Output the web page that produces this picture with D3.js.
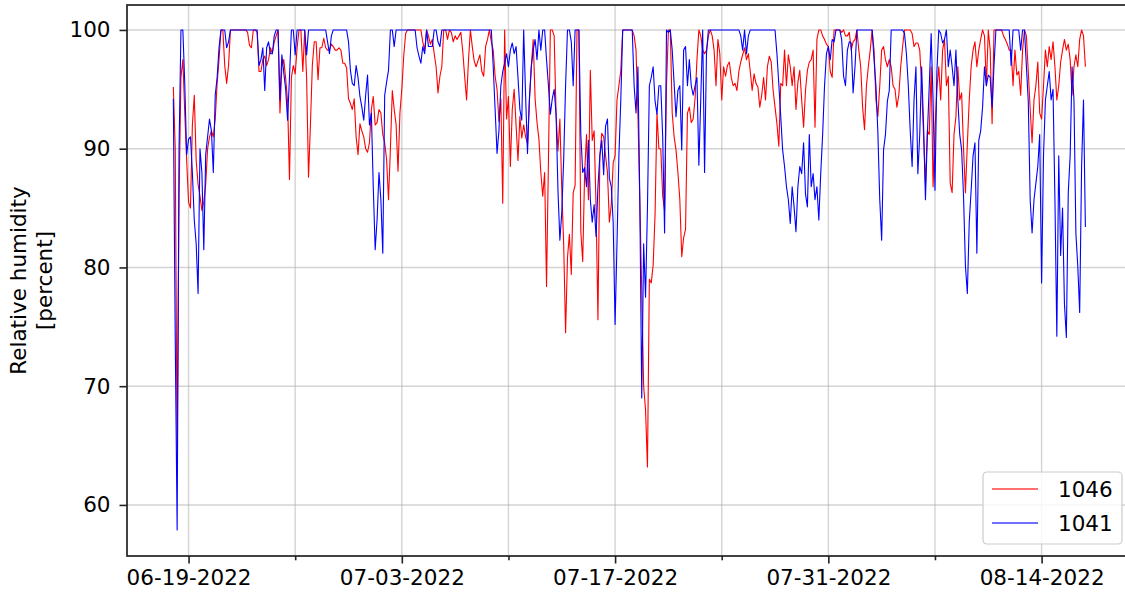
<!DOCTYPE html>
<html>
<head>
<meta charset="utf-8">
<script src="https://cdn.jsdelivr.net/npm/d3@7"></script>
<style>
  html, body { margin: 0; padding: 0; background: #fff; overflow: hidden; }
  svg { display: block; font-family: "DejaVu Sans", sans-serif; }
</style>
</head>
<body>
<div class="chart"></div>
<script>
"use strict";

// Readings every 3 hours, starting 06-18-2022 00:00 (one row = one day)
const startTime = new Date(2022, 5, 18, 0);
const stepHours = 3;

// Sensor 1046 (red)
const rh1046 = [
  95.2, 90.0, 64.2, 86.0, 96.0, 97.5, 93.0, 89.0,
  85.5, 85.0, 92.0, 94.5, 89.0, 87.0, 86.0, 84.8,
  85.5, 87.0, 90.0, 91.0, 91.5, 91.0, 92.5, 95.5,
  97.5, 100, 100, 97.0, 95.5, 97.0, 100, 100,
  100, 100, 100, 100, 100, 100, 100, 99.8,
  98.7, 98.5, 100, 100, 99.8, 96.5, 96.5, 97.5,
  97.8, 97.0, 97.5, 98.5, 98.0, 99.0, 99.5, 100,
  93.0, 96.9, 97.5, 95.9, 94.0, 87.4, 96.0, 97.0,
  96.3, 98.5, 100, 100, 96.5, 100, 95.9, 87.6,
  92.0, 97.0, 99.0, 99.0, 95.8, 98.5, 98.5, 99.3,
  98.5, 98.3, 98.3, 98.8, 98.6, 98.3, 98.3, 98.5,
  98.3, 97.2, 97.2, 96.8, 94.2, 93.8, 93.3, 94.2,
  91.0, 89.5, 92.1, 91.5, 91.0, 90.0, 89.7, 90.5,
  93.3, 94.4, 92.0, 92.2, 93.3, 93.0, 91.2, 90.5,
  89.1, 85.7, 90.0, 94.9, 93.3, 92.0, 88.1, 93.0,
  95.0, 97.8, 99.7, 100, 100, 100, 100, 100,
  100, 100, 100, 99.0, 98.3, 100, 99.5, 98.8,
  99.2, 98.0, 96.9, 94.7, 96.1, 96.9, 100, 100,
  99.2, 100, 99.8, 99.0, 99.5, 99.2, 99.5, 99.8,
  98.2, 96.1, 94.1, 97.4, 100, 98.6, 97.4, 96.9,
  97.4, 97.9, 96.5, 96.1, 98.6, 99.2, 100, 99.0,
  98.3, 96.1, 95.0, 92.3, 94.2, 85.4, 100, 92.5,
  94.4, 88.5, 93.3, 95.0, 92.0, 89.0, 92.7, 90.9,
  92.0, 91.0, 90.4, 94.0, 96.9, 99.2, 94.2, 92.2,
  90.8, 88.0, 86.0, 88.0, 78.4, 89.0, 100, 100,
  99.5, 93.0, 89.8, 92.5, 86.6, 82.0, 74.5, 80.8,
  82.8, 79.4, 86.3, 86.9, 100, 100, 83.0, 80.5,
  87.9, 91.2, 85.7, 96.6, 90.7, 91.5, 85.1, 75.6,
  89.4, 91.3, 91.0, 89.4, 88.0, 83.8, 85.3, 88.8,
  89.4, 94.1, 95.3, 96.6, 100, 100, 100, 100,
  100, 100, 99.5, 98.3, 92.9, 85.5, 78.0, 70.0,
  68.0, 63.2, 79.0, 78.7, 80.2, 84.5, 93.0, 90.0,
  90.0, 86.0, 84.8, 95.3, 100, 100, 93.0, 91.0,
  89.9, 88.0, 85.7, 80.9, 82.5, 83.2, 93.0, 93.5,
  92.2, 92.5, 94.2, 97.5, 100, 99.5, 98.3, 98.0,
  98.3, 99.5, 100, 99.5, 98.3, 95.3, 99.2, 98.0,
  94.1, 96.9, 96.1, 97.0, 97.3, 96.0, 95.3, 95.5,
  94.9, 96.5, 97.3, 97.9, 98.5, 97.5, 98.0, 96.5,
  94.9, 96.3, 95.5, 95.2, 93.5, 94.5, 96.0, 94.1,
  96.9, 97.8, 97.3, 94.9, 93.5, 92.1, 90.2, 95.5,
  95.3, 98.3, 95.3, 97.9, 96.9, 95.3, 96.9, 93.3,
  95.6, 96.6, 94.1, 91.8, 94.9, 96.6, 97.3, 97.5,
  98.3, 91.8, 99.2, 100, 100, 99.5, 99.2, 98.8,
  98.6, 96.5, 96.0, 100, 100, 100, 100, 99.8,
  100, 99.5, 99.5, 99.8, 98.3, 99.0, 99.2, 100,
  98.3, 96.9, 93.5, 91.6, 95.3, 96.9, 98.3, 100,
  98.3, 94.1, 92.7, 95.3, 98.3, 98.6, 97.5, 96.9,
  97.5, 96.9, 95.3, 95.0, 93.5, 94.5, 96.9, 98.6,
  100, 100, 100, 100, 99.7, 98.6, 98.9, 98.9,
  98.3, 95.3, 91.2, 87.0, 91.5, 91.2, 96.9, 86.8,
  91.5, 95.0, 96.9, 94.1, 98.3, 99.2, 95.3, 96.1,
  87.1, 86.3, 91.2, 92.7, 96.9, 94.1, 94.7, 90.0,
  86.3, 90.4, 94.1, 96.9, 98.3, 99.0, 96.9, 98.3,
  99.2, 100, 99.5, 95.3, 100, 98.3, 92.1, 100,
  100, 100, 100, 100, 99.5, 99.2, 98.8, 98.3,
  98.3, 95.3, 98.3, 96.2, 96.5, 94.5, 98.3, 100,
  99.5, 96.5, 93.3, 90.5, 94.1, 95.3, 97.3, 93.0,
  92.5, 95.3, 98.3, 96.9, 98.6, 97.5, 99.0, 96.9,
  94.1, 95.3, 97.3, 98.3, 99.2, 98.3, 98.8, 97.5,
  94.5, 96.9, 97.9, 96.9, 99.2, 100, 99.5, 96.9
];

// Sensor 1041 (blue)
const rh1041 = [
  94.2, 74.0, 57.9, 90.0, 100, 100, 95.5, 89.5,
  90.8, 91.0, 88.0, 84.0, 82.0, 77.8, 90.0, 88.0,
  81.5, 89.5, 91.0, 92.5, 91.5, 88.0, 94.5, 96.0,
  98.5, 100, 100, 100, 98.5, 99.0, 100, 100,
  100, 100, 100, 100, 100, 100, 100, 100,
  100, 100, 100, 100, 100, 97.0, 97.5, 98.5,
  94.9, 98.5, 99.0, 98.0, 98.0, 99.5, 100, 100,
  94.1, 97.9, 96.4, 95.0, 92.4, 96.0, 100, 100,
  97.9, 100, 100, 100, 100, 100, 97.9, 100,
  100, 100, 100, 100, 100, 100, 100, 100,
  100, 99.0, 98.0, 99.5, 100, 100, 100, 100,
  100, 100, 100, 100, 99.0, 96.6, 95.5, 95.3,
  97.0, 96.0, 94.4, 93.5, 92.4, 94.5, 96.2, 92.0,
  93.0, 86.8, 81.5, 84.0, 88.0, 85.7, 81.2, 94.5,
  95.6, 96.6, 100, 100, 98.6, 100, 100, 100,
  100, 100, 100, 100, 100, 100, 100, 100,
  98.5, 97.8, 97.2, 98.6, 98.0, 100, 98.6, 98.6,
  98.6, 100, 100, 99.0, 98.6, 100, 100, 100,
  100, 100, 100, 100, 100, 100, 100, 100,
  100, 100, 100, 100, 100, 100, 100, 100,
  100, 100, 100, 100, 100, 100, 100, 100,
  96.9, 93.3, 89.6, 91.5, 95.3, 96.5, 97.2, 98.0,
  96.9, 98.3, 98.9, 98.0, 98.6, 96.0, 93.3, 92.4,
  100, 94.5, 89.6, 94.2, 96.9, 98.3, 99.2, 97.5,
  100, 98.3, 100, 100, 97.5, 95.3, 92.9, 94.2,
  95.0, 92.9, 86.5, 82.3, 84.6, 89.1, 95.3, 100,
  100, 99.0, 95.3, 100, 100, 100, 91.2, 88.0,
  88.4, 86.8, 90.7, 85.7, 83.8, 85.3, 82.6, 86.8,
  89.4, 90.7, 87.8, 91.9, 92.5, 87.5, 86.8, 83.8,
  75.2, 82.0, 89.4, 94.1, 100, 100, 100, 100,
  100, 100, 95.3, 93.0, 96.9, 85.5, 69.0, 82.0,
  77.5, 85.0, 95.3, 96.0, 96.9, 94.0, 92.9, 95.3,
  95.3, 91.0, 82.9, 100, 99.8, 100, 98.3, 95.5,
  92.7, 94.9, 95.3, 89.9, 98.3, 98.6, 95.3, 97.5,
  95.3, 94.5, 95.3, 96.0, 88.6, 94.2, 100, 88.0,
  98.0, 100, 100, 100, 100, 100, 100, 100,
  100, 100, 100, 100, 100, 100, 100, 100,
  100, 100, 99.5, 98.3, 100, 98.0, 99.5, 100,
  100, 100, 100, 100, 100, 100, 100, 100,
  100, 100, 100, 100, 100, 98.0, 95.4, 92.7,
  89.9, 88.5, 86.8, 85.7, 83.7, 86.8, 85.1, 83.0,
  86.8, 88.5, 87.9, 90.5, 86.2, 85.1, 91.2, 86.8,
  87.9, 85.7, 86.8, 84.0, 87.9, 91.2, 95.3, 98.0,
  98.6, 97.5, 99.2, 99.0, 100, 100, 100, 99.2,
  96.1, 95.3, 98.3, 99.0, 98.9, 94.7, 96.9, 100,
  100, 100, 100, 100, 100, 100, 100, 100,
  97.5, 95.3, 91.4, 85.7, 82.3, 89.9, 91.2, 94.0,
  94.9, 100, 100, 100, 100, 100, 100, 100,
  99.7, 98.0, 95.3, 91.5, 88.5, 94.1, 96.9, 87.9,
  91.2, 96.9, 92.0, 85.7, 91.2, 95.3, 99.7, 94.1,
  86.5, 96.5, 100, 99.7, 98.9, 99.2, 100, 96.9,
  98.3, 96.9, 95.3, 98.3, 94.1, 91.2, 89.9, 86.0,
  80.1, 77.8, 83.8, 86.5, 89.4, 90.5, 81.2, 90.7,
  91.5, 93.5, 96.9, 95.3, 96.2, 96.0, 93.5, 97.0,
  100, 100, 100, 100, 100, 100, 100, 100,
  97.0, 100, 100, 100, 100, 98.3, 100, 100,
  97.0, 94.0, 85.7, 82.9, 85.7, 87.1, 88.5, 91.2,
  78.7, 89.4, 94.1, 95.3, 96.5, 94.1, 95.0, 85.7,
  74.2, 89.4, 81.0, 85.0, 76.9, 74.1, 86.3, 89.4,
  96.9, 94.1, 82.9, 80.1, 76.2, 88.5, 94.1, 83.4
];

const seriesNames = ["1046", "1041"];
const seriesColors = ["red", "blue"];

const majorTicks = [
  new Date(2022, 5, 19), new Date(2022, 6, 3), new Date(2022, 6, 17),
  new Date(2022, 6, 31), new Date(2022, 7, 14)
];
const minorTicks = [
  new Date(2022, 5, 26), new Date(2022, 6, 10), new Date(2022, 6, 24),
  new Date(2022, 7, 7)
];
const yTicks = [60, 70, 80, 90, 100];

drawChart();

function drawChart() {
  const width = 1125;
  const height = 596;
  const left = 127, right = 1133, top = 5, bottom = 556;
  const fontSize = 21.5;

  const svg = d3.select(".chart")
    .append("svg")
      .attr("width", width)
      .attr("height", height);

  const xScale = d3.scaleTime()
    .domain([new Date(2022, 5, 14, 23), new Date(2022, 7, 20, 0)])
    .range([left, right]);

  const yScale = d3.scaleLinear()
    .domain([55.7, 102.1])
    .range([bottom, top]);

  const timeAt = i => new Date(startTime.getTime() + i * stepHours * 3600 * 1000);

  // Grid lines (major and minor dates, y ticks)
  const grid = svg.append("g").attr("class", "grid");
  grid.selectAll(".vgrid")
    .data(majorTicks.concat(minorTicks))
    .join("line")
      .attr("x1", d => xScale(d))
      .attr("x2", d => xScale(d))
      .attr("y1", top)
      .attr("y2", bottom)
      .attr("stroke", "#b0b0b0")
      .attr("stroke-opacity", 0.55)
      .attr("stroke-width", 1.4);

  grid.selectAll(".hgrid")
    .data(yTicks)
    .join("line")
      .attr("x1", left)
      .attr("x2", right)
      .attr("y1", d => yScale(d))
      .attr("y2", d => yScale(d))
      .attr("stroke", "#b0b0b0")
      .attr("stroke-opacity", 0.55)
      .attr("stroke-width", 1.4);

  // Lines, red first so blue sits on top
  const lineGenerator = d3.line()
    .x((d, i) => xScale(timeAt(i)))
    .y(d => yScale(d));

  [rh1046, rh1041].forEach((values, k) => {
    svg.append("path")
      .attr("d", lineGenerator(values))
      .attr("fill", "none")
      .attr("stroke", seriesColors[k])
      .attr("stroke-width", 1.1)
      .attr("stroke-linejoin", "round");
  });

  // Axes
  const xAxis = d3.axisBottom(xScale)
    .tickValues(majorTicks)
    .tickFormat(d3.timeFormat("%m-%d-%Y"))
    .tickSize(7.5)
    .tickPadding(6);

  const xMinor = d3.axisBottom(xScale)
    .tickValues(minorTicks)
    .tickFormat("")
    .tickSize(4.3);

  const yAxis = d3.axisLeft(yScale)
    .tickValues(yTicks)
    .tickSize(7.5)
    .tickPadding(9);

  const gx = svg.append("g")
    .attr("transform", `translate(0, ${bottom})`)
    .call(xAxis);
  const gxm = svg.append("g")
    .attr("transform", `translate(0, ${bottom})`)
    .call(xMinor);
  const gy = svg.append("g")
    .attr("transform", `translate(${left}, 0)`)
    .call(yAxis);

  [gx, gxm, gy].forEach(g => {
    g.select(".domain").remove();
    g.selectAll(".tick line").attr("stroke", "#222").attr("stroke-width", 1.6);
    g.selectAll(".tick text")
      .attr("fill", "#000")
      .attr("font-size", fontSize)
      .attr("font-family", "DejaVu Sans");
  });

  // Spines
  svg.append("rect")
    .attr("x", left)
    .attr("y", top)
    .attr("width", right - left)
    .attr("height", bottom - top)
    .attr("fill", "none")
    .attr("stroke", "#222")
    .attr("stroke-width", 1.7);

  // Y label
  svg.append("text")
    .attr("transform", `translate(28, ${(top + bottom) / 2}) rotate(-90)`)
    .attr("text-anchor", "middle")
    .attr("font-size", fontSize)
    .attr("fill", "#000")
    .selectAll("tspan")
    .data(["Relative humidity", "[percent]"])
    .join("tspan")
      .attr("x", 0)
      .attr("dy", (d, i) => i === 0 ? "-0.1em" : "1.2em")
      .text(d => d);

  // Legend
  const legend = svg.append("g").attr("transform", "translate(983, 472)");
  legend.append("rect")
    .attr("width", 139)
    .attr("height", 72)
    .attr("rx", 4)
    .attr("fill", "#fff")
    .attr("fill-opacity", 0.8)
    .attr("stroke", "#cccccc")
    .attr("stroke-width", 1.2);

  legend.selectAll(".item")
    .data(seriesNames)
    .join("g")
      .attr("transform", (d, i) => `translate(0, ${17 + i * 34})`)
      .each(function(d, i) {
        const g = d3.select(this);
        g.append("line")
          .attr("x1", 9)
          .attr("x2", 55)
          .attr("stroke", seriesColors[i])
          .attr("stroke-opacity", 0.75)
          .attr("stroke-width", 1.3);
        g.append("text")
          .attr("x", 75)
          .attr("y", 8)
          .attr("font-size", fontSize)
          .attr("fill", "#000")
          .text(d);
      });
}
</script>
</body>
</html>
